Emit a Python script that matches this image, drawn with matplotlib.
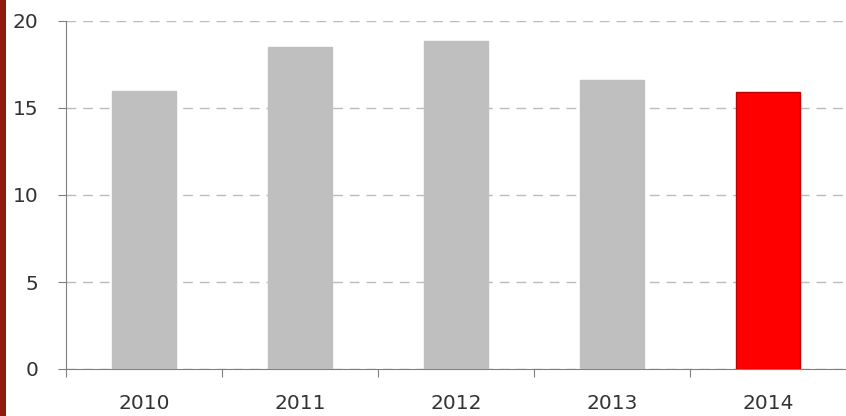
import matplotlib
matplotlib.use('Agg')
import matplotlib.pyplot as plt
from matplotlib.patches import Rectangle

years = ['2010', '2011', '2012', '2013', '2014']
values = [16.0, 18.5, 18.85, 16.6, 15.9]
colors = ['#bfbfbf', '#bfbfbf', '#bfbfbf', '#bfbfbf', '#ff0000']
edges = ['#bfbfbf', '#bfbfbf', '#bfbfbf', '#bfbfbf', '#c00000']
yticks = [0, 5, 10, 15, 20]

fig = plt.figure(figsize=(8.46, 4.16), dpi=100)
ax = fig.add_axes([66/846, 47/416, 780/846, 348/416])

# dark red strip on the left edge
fig.patches.append(Rectangle((0, 0), 6/846, 1, transform=fig.transFigure,
                             facecolor='#8e1a0e', edgecolor='none'))

x = list(range(len(years)))
ax.bar(x, values, width=0.41, color=colors, edgecolor=edges, linewidth=1, zorder=3)

ax.set_xlim(-0.5, 4.5)
ax.set_ylim(0, 20)
ax.set_yticks(yticks)
ax.set_xticks([i - 0.5 for i in range(6)])
ax.set_xticklabels([])
ax.set_xticks(x, minor=True)
ax.set_xticklabels(years, minor=True)
ax.tick_params(axis='x', which='minor', length=0, pad=18, labelsize=14.5, labelcolor='#333333')
ax.tick_params(axis='x', which='major', length=6, color='#808080', direction='out')
ax.tick_params(axis='y', length=6, color='#808080', pad=14, labelsize=14.5, labelcolor='#333333')

ax.yaxis.grid(True, linestyle=(0, (7, 5)), color='#bcbcbc', linewidth=1, zorder=0)
for s in ['top', 'right']:
    ax.spines[s].set_visible(False)
for s in ['left', 'bottom']:
    ax.spines[s].set_color('#808080')

fig.savefig('out.png', dpi=100)
